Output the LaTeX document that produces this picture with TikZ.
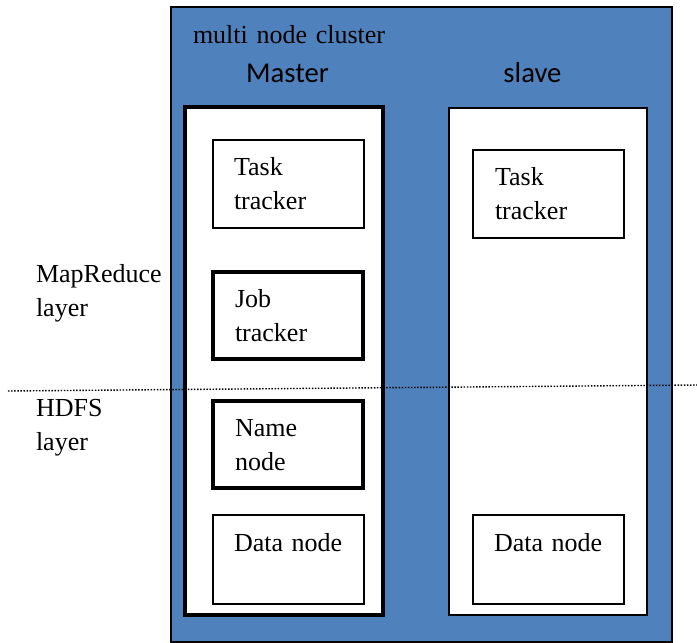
\documentclass[tikz,border=0pt]{standalone}
\usepackage{fontspec}
\setmainfont{Liberation Serif}
\newfontfamily\calib{Carlito}
\definecolor{clusterblue}{HTML}{4F81BD}
\begin{document}
\begin{tikzpicture}[x=1pt,y=-1pt,
  box/.style={draw=black, fill=white, rectangle, inner sep=0pt, outer sep=0pt, line width=1.5pt},
  heavybox/.style={box, line width=3.2pt},
  txt/.style={inner sep=0pt, outer sep=0pt, anchor=base west, align=left, text width=260pt,
              font=\fontsize{26}{34}\selectfont},
  head/.style={inner sep=0pt, outer sep=0pt, anchor=base, font=\calib\fontsize{28.7}{34}\selectfont},
  divider/.style={line width=1.4pt, dash pattern=on 1.5pt off 1.6pt}]
\useasboundingbox (0,0) rectangle (697,643);

% cluster frame
\node[draw=black, fill=clusterblue, line width=1.3pt, rectangle, inner sep=0pt, outer sep=0pt,
      minimum width=501pt, minimum height=635pt] (cluster) at (421.5,324.5) {};
\node[txt] (clustertitle) at (193,43) {multi node cluster};
\node[head] (mastertitle) at (287.5,82) {Master};
\node[head] (slavetitle) at (532.5,82) {slave};

% master and slave machines
\node[heavybox, line width=3.5pt, minimum width=198pt, minimum height=508pt] (master) at (284,361) {};
\node[box, minimum width=198pt, minimum height=507pt] (slave) at (548,361.5) {};

% daemons on the master
\node[box, minimum width=151pt, minimum height=88pt] (mtask) at (288.5,184) {};
\node[heavybox, minimum width=150pt, minimum height=87pt] (job) at (288,315.5) {};
\node[heavybox, minimum width=150pt, minimum height=87pt] (name) at (288,444.5) {};
\node[box, minimum width=151pt, minimum height=89pt] (mdata) at (288.5,559.5) {};

% daemons on the slave
\node[box, minimum width=151pt, minimum height=88pt] (stask) at (548.5,194) {};
\node[box, minimum width=151pt, minimum height=89pt] (sdata) at (548.5,559.5) {};

% daemon names
\node[txt] (mtasklbl) at (234,175) {Task\\tracker};
\node[txt] (joblbl) at (235,307) {Job\\tracker};
\node[txt] (namelbl) at (235,436) {Name\\node};
\node[txt] (mdatalbl) at (234,551) {Data node};
\node[txt] (stasklbl) at (495,185) {Task\\tracker};
\node[txt] (sdatalbl) at (494,551) {Data node};

% layer names
\node[txt] (mrlbl) at (36,282) {MapReduce\\layer};
\node[txt] (hdfslbl) at (36,416) {HDFS\\layer};

% boundary between the two layers
\coordinate (divleft) at (8,391);
\coordinate (divright) at (697,385);
\draw[divider] (divleft) -- (divright);
\end{tikzpicture}
\end{document}
